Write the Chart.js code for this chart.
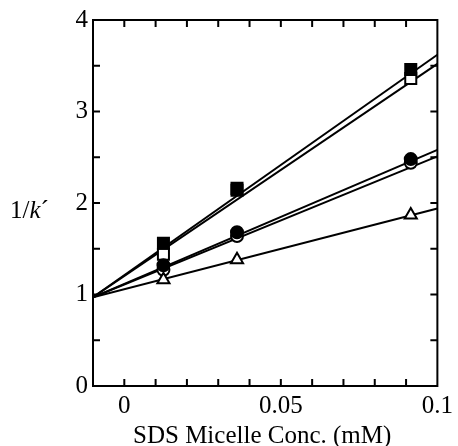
<!DOCTYPE html>
<html>
<head>
<meta charset="utf-8">
<script src="https://cdn.jsdelivr.net/npm/chart.js@4.4.1/dist/chart.umd.min.js"></script>
<style>
  html, body { margin: 0; padding: 0; background: #fff; }
  #wrap { width: 458px; height: 446px; }
</style>
</head>
<body>
<div id="wrap"><canvas id="chart" width="458" height="446"></canvas></div>
<script>
// SDS micelle concentration (mM)
const conc = [0.0125, 0.036, 0.0915];

// 1/k' for each solute
const filledSquare = [1.56, 2.16, 3.46];
const openSquare = [1.44, 2.14, 3.36];
const filledCircle = [1.32, 1.68, 2.48];
const openCircle = [1.27, 1.64, 2.44];
const openTriangle = [1.16, 1.38, 1.87];

// fitted lines, read at the two ends of the x range
const fitX = [-0.01, 0.1];
const fitFilledSquare = [0.97, 3.62];
const fitOpenSquare = [0.97, 3.52];
const fitFilledCircle = [0.97, 2.58];
const fitOpenCircle = [0.97, 2.51];
const fitTriangle = [0.97, 1.94];

// axis ticks
const xTickLabels = [0, 0.05, 0.1];
const yTickLabels = [0, 1, 2, 3, 4];
const xMinorTicks = [0, 0.01, 0.02, 0.03, 0.04, 0.05, 0.06, 0.07, 0.08, 0.09];
const yMinorTicks = [0.5, 1, 1.5, 2, 2.5, 3, 3.5];

const SERIF = "'Liberation Serif', 'Times New Roman', serif";

const pts = ys => ys.map((y, i) => ({x: conc[i], y}));
const fit = ys => ys.map((y, i) => ({x: fitX[i], y}));

function lineSet(ys){
  return {
    data: fit(ys), showLine: true, borderColor: "#000", borderWidth: 2,
    pointRadius: 0, fill: false, order: 10
  };
}
function markerSet(ys, style, filled, r, order){
  return {
    data: pts(ys), showLine: false, pointStyle: style, pointRadius: r,
    pointBackgroundColor: filled ? "#000" : "#fff",
    pointBorderColor: "#000", pointBorderWidth: 2, order: order
  };
}

const frame = {
  id: "frame",
  afterDatasetsDraw(chart){
    const {ctx, chartArea: a, scales: {x, y}} = chart;
    ctx.save();
    ctx.strokeStyle = "#000";
    ctx.lineWidth = 2;
    ctx.strokeRect(a.left, a.top, a.right - a.left, a.bottom - a.top);
    const tl = 7;
    ctx.beginPath();
    xMinorTicks.forEach(v => {
      const px = x.getPixelForValue(v);
      ctx.moveTo(px, a.bottom); ctx.lineTo(px, a.bottom - tl);
      ctx.moveTo(px, a.top); ctx.lineTo(px, a.top + tl);
    });
    yMinorTicks.forEach(v => {
      const py = y.getPixelForValue(v);
      ctx.moveTo(a.left, py); ctx.lineTo(a.left + tl, py);
      ctx.moveTo(a.right, py); ctx.lineTo(a.right - tl, py);
    });
    ctx.stroke();

    // axis titles
    ctx.fillStyle = "#000";
    ctx.textBaseline = "alphabetic";
    ctx.textAlign = "center";
    ctx.font = "25px " + SERIF;
    ctx.fillText("SDS Micelle Conc. (mM)", (a.left + a.right) / 2 - 3, 443);

    ctx.textAlign = "left";
    let lx = 10;
    const ly = 218;
    ctx.font = "25px " + SERIF;
    ctx.fillText("1/", lx, ly);
    lx += ctx.measureText("1/").width;
    ctx.font = "italic 25px " + SERIF;
    ctx.fillText("k", lx, ly);
    lx += ctx.measureText("k").width;
    ctx.font = "25px " + SERIF;
    ctx.fillText("\u00B4", lx, ly);
    ctx.restore();
  }
};

new Chart(document.getElementById("chart"), {
  type: "scatter",
  data: {
    datasets: [
      lineSet(fitFilledSquare),
      lineSet(fitOpenSquare),
      lineSet(fitFilledCircle),
      lineSet(fitOpenCircle),
      lineSet(fitTriangle),
      markerSet(openSquare, "rect", false, 7.8, 6),
      markerSet(filledSquare, "rect", true, 7.8, 2),
      markerSet(openCircle, "circle", false, 6, 5),
      markerSet(filledCircle, "circle", true, 6, 3),
      markerSet(openTriangle, "triangle", false, 7, 4)
    ]
  },
  options: {
    responsive: false,
    animation: false,
    devicePixelRatio: 1,
    layout: {padding: {left: 0, right: 20, top: 16, bottom: 0}},
    plugins: {legend: {display: false}, tooltip: {enabled: false}},
    scales: {
      x: {
        type: "linear", min: -0.01, max: 0.1,
        grid: {display: false, drawTicks: false},
        border: {display: false},
        afterBuildTicks: s => { s.ticks = xTickLabels.map(v => ({value: v})); },
        afterFit: s => { s.height = 60; },
        ticks: {
          color: "#000", padding: 5, maxRotation: 0, autoSkip: false,
          font: {family: SERIF, size: 25},
          callback: v => String(v)
        }
      },
      y: {
        type: "linear", min: 0, max: 4,
        grid: {display: false, drawTicks: false},
        border: {display: false},
        afterBuildTicks: s => { s.ticks = yTickLabels.map(v => ({value: v})); },
        afterFit: s => { s.width = 93; },
        ticks: {
          color: "#000", padding: 5,
          font: {family: SERIF, size: 25},
          callback: v => String(v)
        }
      }
    }
  },
  plugins: [frame]
});
</script>
</body>
</html>
